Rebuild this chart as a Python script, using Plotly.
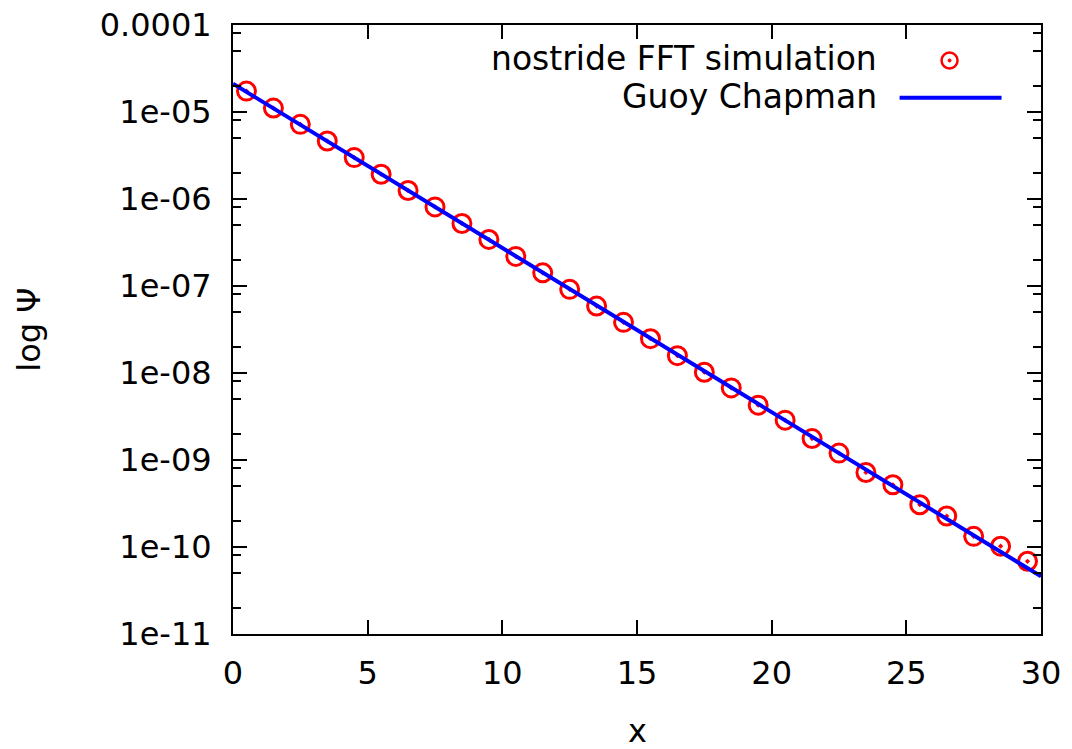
import plotly.graph_objects as go

# ---- data ----
sim_x = [0.5, 1.5, 2.5, 3.5, 4.5, 5.5, 6.5, 7.5, 8.5, 9.5,
         10.5, 11.5, 12.5, 13.5, 14.5, 15.5, 16.5, 17.5, 18.5, 19.5,
         20.5, 21.5, 22.5, 23.5, 24.5, 25.5, 26.5, 27.5, 28.5, 29.5]
sim_y = [1.739e-5, 1.110e-5, 7.21e-6, 4.64e-6, 2.99e-6, 1.925e-6, 1.251e-6, 8.11e-7, 5.23e-7, 3.43e-7,
         2.19e-7, 1.418e-7, 9.15e-8, 5.88e-8, 3.82e-8, 2.48e-8, 1.582e-8, 1.020e-8, 6.74e-9, 4.27e-9,
         2.87e-9, 1.764e-9, 1.200e-9, 7.19e-10, 5.19e-10, 3.06e-10, 2.27e-10, 1.325e-10, 1.022e-10, 6.85e-11]
gc_x = [0, 30]
gc_y = [2.114e-5, 4.60e-11]

x_ticks = [0, 5, 10, 15, 20, 25, 30]
y_ticks = [1e-11, 1e-10, 1e-9, 1e-8, 1e-7, 1e-6, 1e-5, 1e-4]
y_ticktext = ["1e-11", "1e-10", "1e-09", "1e-08", "1e-07", "1e-06", "1e-05", "0.0001"]
y_minor = [m * 10.0 ** e for e in range(-11, -4) for m in (2, 5, 8)]

sim_name = "nostride FFT simulation"
gc_name = "Guoy Chapman"

# ---- layout geometry (pixels) ----
W, H = 1072, 749
L, R, T, B = 233, 1041.5, 24.5, 634.5
FONT = "DejaVu Sans"
FS = 32


def px(xp):
    return (xp - L) / (R - L)


def py(yp):
    return (B - yp) / (B - T)


fig = go.Figure()
fig.add_trace(go.Scatter(
    x=sim_x, y=sim_y, mode="markers", name=sim_name, showlegend=False,
    marker=dict(symbol="circle-open-dot", size=18, color="#ff0000",
                line=dict(width=3, color="#ff0000")),
    cliponaxis=True,
))
fig.add_trace(go.Scatter(
    x=gc_x, y=gc_y, mode="lines", name=gc_name, showlegend=False,
    line=dict(color="#0000ff", width=4),
))

axis_common = dict(
    showline=True, linecolor="black", linewidth=2, mirror="allticks",
    ticks="inside", tickcolor="black", tickwidth=2, ticklen=14,
    showgrid=False, zeroline=False, automargin=False,
    tickfont=dict(family=FONT, size=FS, color="black"),
)

fig.update_xaxes(range=[0, 30], tickmode="array", tickvals=x_ticks,
                 ticktext=[str(v) for v in x_ticks], ticklabelstandoff=10,
                 **axis_common)
fig.update_yaxes(type="log", range=[-11, -4], tickmode="array", tickvals=y_ticks,
                 ticktext=y_ticktext, ticklabelstandoff=13,
                 minor=dict(tickmode="array", tickvals=y_minor, ticks="inside",
                            ticklen=8, tickwidth=2, tickcolor="black", showgrid=False),
                 **axis_common)

annotations = [
    dict(text="x", x=0.5, y=py(732), xref="paper", yref="paper",
         xanchor="center", yanchor="middle", showarrow=False,
         font=dict(family=FONT, size=FS, color="black")),
    dict(text="log \u03a8", x=px(28), y=0.5, xref="paper", yref="paper",
         xanchor="center", yanchor="middle", showarrow=False, textangle=-90,
         font=dict(family=FONT, size=FS, color="black")),
    dict(text=sim_name, x=px(879), y=py(58), xref="paper", yref="paper",
         xanchor="right", yanchor="middle", showarrow=False,
         font=dict(family=FONT, size=33, color="black")),
    dict(text=gc_name, x=px(879), y=py(96), xref="paper", yref="paper",
         xanchor="right", yanchor="middle", showarrow=False,
         font=dict(family=FONT, size=33, color="black")),
]

shapes = [
    dict(type="circle", xref="paper", yref="paper",
         x0=px(942), x1=px(958), y0=py(68), y1=py(52),
         line=dict(color="#ff0000", width=2.5)),
    dict(type="circle", xref="paper", yref="paper",
         x0=px(948.5), x1=px(951.5), y0=py(61.5), y1=py(58.5),
         line=dict(color="#ff0000", width=1), fillcolor="#ff0000"),
    dict(type="line", xref="paper", yref="paper",
         x0=px(900), x1=px(1002), y0=py(97.3), y1=py(97.3),
         line=dict(color="#0000ff", width=4)),
]

fig.update_layout(
    width=W, height=H,
    margin=dict(l=L, r=W - R, t=T, b=H - B, pad=0, autoexpand=False),
    paper_bgcolor="white", plot_bgcolor="white",
    annotations=annotations, shapes=shapes,
    showlegend=False,
    font=dict(family=FONT, size=FS, color="black"),
)

fig.write_html("out.html")
